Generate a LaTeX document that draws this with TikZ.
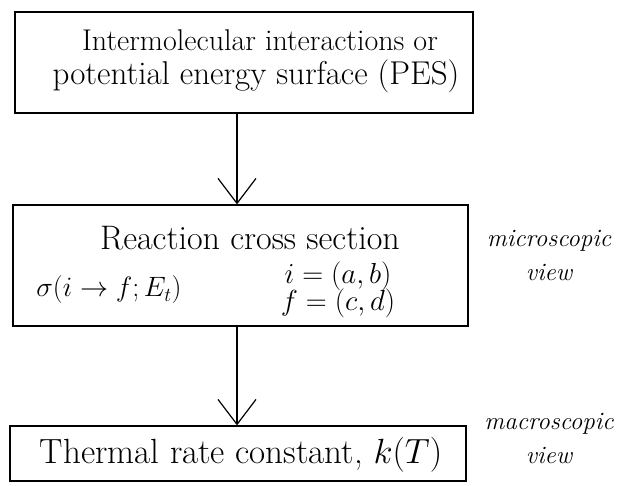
\RequirePackage{fix-cm}
\documentclass[tikz,border=0pt]{standalone}
\usetikzlibrary{arrows.meta}
\begin{document}
\begin{tikzpicture}[x=1pt,y=-1pt,
  box/.style={draw,line width=1.2pt,inner sep=0pt},
  flow/.style={line width=1.2pt,-{Straight Barb[length=25pt,width=38pt,line width=1.2pt]}},
  big/.style={inner sep=0pt,align=center},
  side/.style={font=\fontsize{25}{34}\selectfont\itshape,inner sep=0pt,align=center}]
\path[use as bounding box] (0,0) rectangle (618,486);
% boxes
\node[box,minimum width=458pt,minimum height=101pt] (b1) at (244,62.5) {};
\node[box,minimum width=455pt,minimum height=121pt] (b2) at (240.5,265.5) {};
\node[box,minimum width=456pt,minimum height=55pt] (b3) at (238,453.5) {};
% texts
\node[big,font=\fontsize{30}{36}\selectfont] (t1a) at (260,40) {Intermolecular interactions or};
\node[big,font=\fontsize{33}{40}\selectfont] (t1b) at (256,76) {potential energy surface (PES)};
\node[big,font=\fontsize{34}{40}\selectfont] (t2) at (250,238) {Reaction cross section};
\node[big,font=\fontsize{28}{34}\selectfont] (t2s) at (109,290) {$\sigma(i\rightarrow f;E_t)$};
\node[big,font=\fontsize{29}{30}\selectfont] (t2if) at (338,290) {$i=(a,b)$\\[-3pt]$f=(c,d)$};
\node[big,font=\fontsize{35}{40}\selectfont] (t3) at (241,455) {Thermal rate constant, $k(T)$};
\node[side] (mic) at (549,255) {microscopic\\view};
\node[side] (mac) at (549,438) {macroscopic\\view};
% arrows
\coordinate (ax) at (237,0);
\draw[flow] (b1.south -| ax) -- (b2.north -| ax);
\draw[flow] (b2.south -| ax) -- (b3.north -| ax);
\end{tikzpicture}
\end{document}
